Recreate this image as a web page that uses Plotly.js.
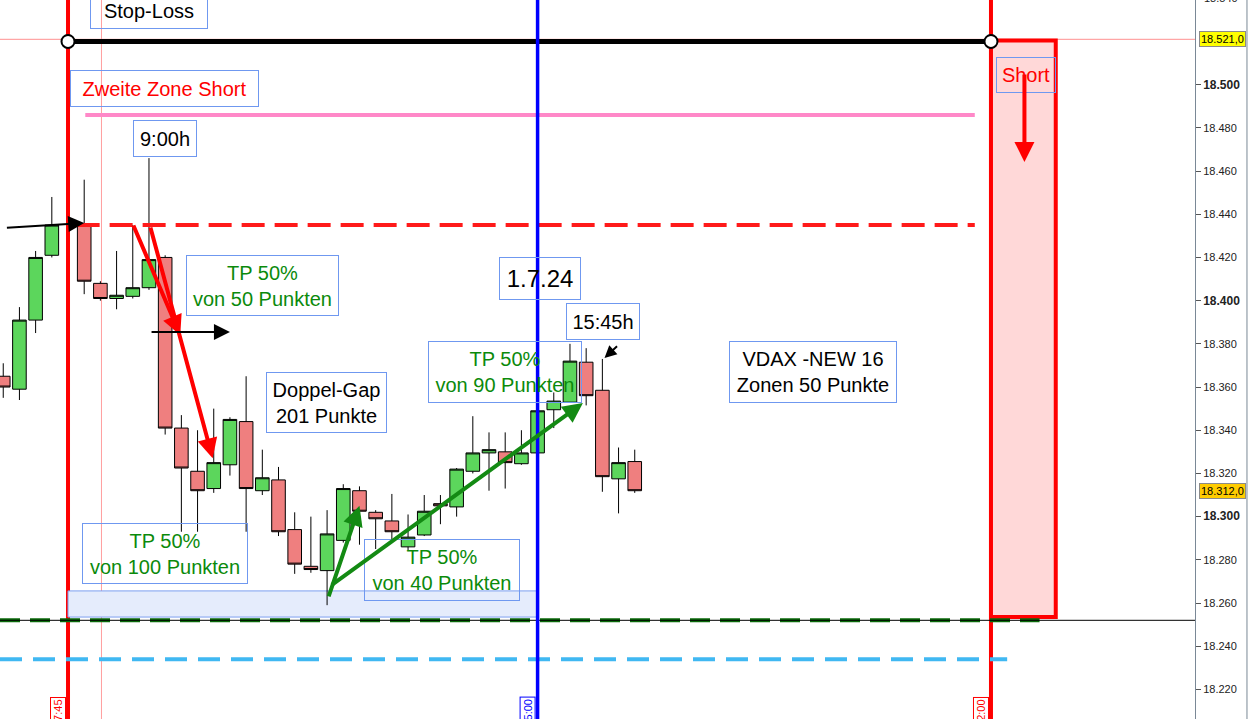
<!DOCTYPE html>
<html>
<head>
<meta charset="utf-8">
<script src="https://cdn.plot.ly/plotly-3.0.1.min.js"></script>
<style>
  body { margin: 0; background: #fff; }
  #chart { width: 1250px; height: 719px; }
</style>
</head>
<body>
<div id="chart"></div>
<script>
// 15 min candles, 1.7.24
var candleTimes = ['06:45', '07:00', '07:15', '07:30',
  '08:00', '08:15', '08:30', '08:45', '09:00', '09:15', '09:30', '09:45',
  '10:00', '10:15', '10:30', '10:45', '11:00', '11:15', '11:30', '11:45',
  '12:00', '12:15', '12:30', '12:45', '13:00', '13:15', '13:30', '13:45',
  '14:00', '14:15', '14:30', '14:45', '15:00', '15:15', '15:30', '15:45',
  '16:00', '16:15', '16:30'];
var openP = [18365, 18359, 18391, 18421,
  18435, 18408, 18401, 18402, 18406, 18420, 18341, 18321,
  18313, 18324, 18344, 18312, 18317, 18294, 18277, 18275,
  18289, 18312, 18302, 18298, 18286, 18291.5, 18306, 18304.5,
  18321, 18329.5, 18330, 18324.5, 18329.5, 18349.5, 18353, 18371.5,
  18358.5, 18317.5, 18325.5];
var highP = [18371, 18397, 18423, 18448,
  18456, 18409, 18423, 18435, 18466, 18421, 18347, 18340,
  18350, 18346, 18365, 18331, 18323, 18302, 18300, 18303,
  18315, 18314, 18303, 18310.5, 18301, 18310, 18310, 18322.5,
  18346.5, 18339, 18339, 18340, 18349, 18357.5, 18380, 18378,
  18373, 18332, 18331];
var lowP = [18355, 18354, 18385, 18420,
  18403, 18400, 18396, 18401, 18405, 18338, 18293, 18293,
  18311, 18319, 18293, 18310, 18291, 18273.5, 18274, 18259,
  18288, 18287, 18285, 18289, 18284.5, 18291, 18296.5, 18300,
  18320, 18312, 18313, 18324, 18329, 18341, 18353, 18351.5,
  18311.5, 18301.5, 18311];
var closeP = [18360, 18391, 18420, 18435,
  18409, 18401, 18402.5, 18406, 18419, 18341, 18322.5, 18312,
  18325, 18345, 18313, 18318, 18293, 18278, 18275.5, 18292,
  18313, 18302.5, 18299, 18293, 18290.5, 18302.5, 18305, 18322,
  18329.5, 18331, 18325, 18329.5, 18349, 18353.5, 18372, 18356,
  18318.5, 18325, 18312];

// levels drawn on the chart
var stopLoss = 18520;
var zone2Short = 18486;
var shortEntry = 18435;
var gapLevel = 18252;
var lowZone = 18234;
var lastPrice = 18312;
var crossPrice = 18521;
var gapBox = [18253.5, 18265.6];
var shortBox = [18253.5, 18520.5];

var yTicks = [18220, 18240, 18260, 18280, 18300, 18320, 18340, 18360, 18380,
  18400, 18420, 18440, 18460, 18480, 18500];
var yTickText = ['18.220', '18.240', '18.260', '18.280', '<b style="font-size:12px">18.300</b>',
  '18.320', '18.340', '18.360', '18.380', '<b style="font-size:12px">18.400</b>',
  '18.420', '18.440', '18.460', '18.480', '<b style="font-size:12px">18.500</b>'];

function t(hm) { return '2024-07-01 ' + hm; }

var FONT = 'Arial, "Liberation Sans", sans-serif';
var GREEN_TXT = '#0b8a0b';

var candles = {
  type: 'candlestick',
  x: candleTimes.map(t),
  open: openP, high: highP, low: lowP, close: closeP,
  increasing: { line: { color: '#000', width: 1 }, fillcolor: '#5cd65c' },
  decreasing: { line: { color: '#000', width: 1 }, fillcolor: '#ef7f7f' },
  whiskerwidth: 0,
  showlegend: false,
  hoverinfo: 'none'
};

var slEnds = {
  type: 'scatter', mode: 'markers',
  x: [t('07:45'), t('22:00')],
  y: [stopLoss, stopLoss],
  marker: { size: 13, color: '#fff', line: { color: '#000', width: 2 } },
  showlegend: false, hoverinfo: 'none', cliponaxis: false
};

function hline(y, x0, x1, color, width, dash, layer) {
  return { type: 'line', xref: 'x', yref: 'y', x0: x0, x1: x1, y0: y, y1: y,
    line: { color: color, width: width, dash: dash || 'solid' }, layer: layer || 'above' };
}
function vline(x, color, width, layer) {
  return { type: 'line', xref: 'x', yref: 'paper', x0: x, x1: x, y0: 0, y1: 1,
    line: { color: color, width: width }, layer: layer || 'above' };
}

var shapes = [
  // crosshair
  { type: 'line', xref: 'paper', yref: 'y', x0: 0, x1: 1, y0: crossPrice, y1: crossPrice,
    line: { color: '#ff9090', width: 1 }, layer: 'below' },
  vline(t('08:16'), '#ff9f9f', 1, 'below'),
  // boxes
  { type: 'rect', xref: 'x', yref: 'y', x0: t('07:45'), x1: t('15:00'), y0: gapBox[0], y1: gapBox[1],
    fillcolor: '#e5ecfc', line: { color: '#7d9ff0', width: 1 }, layer: 'below' },
  { type: 'rect', xref: 'x', yref: 'y', x0: t('22:00'), x1: t('23:00'), y0: shortBox[0], y1: shortBox[1],
    fillcolor: '#ffd8d8', line: { color: '#ff0000', width: 4 }, layer: 'below' },
  // time markers
  vline(t('07:45'), '#ff0000', 4, 'below'),
  vline(t('22:00'), '#ff0000', 4, 'below'),
  hline(stopLoss, t('07:45'), t('22:00'), '#000', 5, 'solid', 'below'),
  // levels
  hline(zone2Short, t('08:01'), t('21:45'), '#ff88c8', 4),
  hline(shortEntry, t('07:53'), t('21:45'), '#ff1a1a', 4, '23px,10px'),
  hline(gapLevel, t('06:42'), t('22:45'), '#0a6a0a', 4, '20px,10px'),
  { type: 'line', xref: 'paper', yref: 'y', x0: 0, x1: 1, y0: gapLevel, y1: gapLevel,
    line: { color: '#000', width: 1 } },
  hline(lowZone, t('06:42'), t('22:15'), '#40b8f2', 4, '22px,11px'),
  vline(t('15:00'), '#0000ff', 3.5),
  // right border
  { type: 'line', xref: 'paper', yref: 'paper', x0: 1.0435, x1: 1.0435, y0: 0, y1: 1,
    line: { color: '#7a8896', width: 1 } }
];

function box(text, x, y, w, h, color, size) {
  return { text: text, x: t(x), y: y, xref: 'x', yref: 'y', showarrow: false,
    width: w, height: h, align: 'center', valign: 'middle',
    font: { family: FONT, size: size || 20, color: color },
    bordercolor: '#6f98f0', borderwidth: 1, borderpad: 3, bgcolor: 'rgba(0,0,0,0)' };
}
function arrow(x0, y0, x1, y1, color, width, size) {
  return { text: '', x: t(x1), y: y1, ax: t(x0), ay: y0, xref: 'x', yref: 'y',
    axref: 'x', ayref: 'y', showarrow: true, arrowhead: 2, arrowsize: size,
    arrowwidth: width, arrowcolor: color, standoff: 0, startstandoff: 0 };
}
function timeTag(x, text, color) {
  return { text: text, x: t(x), y: 1 - 697 / 719, xref: 'x', yref: 'paper',
    xanchor: 'right', yanchor: 'top', xshift: -2, textangle: -90, showarrow: false,
    font: { family: FONT, size: 11, color: color },
    bordercolor: color, borderwidth: 1, borderpad: 1, bgcolor: '#fff' };
}
function priceTag(y, text, bg) {
  return { text: text, x: 1.003, y: y, xref: 'paper', yref: 'y', xanchor: 'left', yanchor: 'middle',
    showarrow: false, font: { family: FONT, size: 11, color: '#000' },
    bgcolor: bg, bordercolor: '#8a8a8a', borderwidth: 1, borderpad: 1 };
}

var annotations = [
  box('Stop-Loss', '09:00', 18534.4, 110, 29, '#000'),
  box('Zweite Zone Short', '09:14', 18498.3, 181, 29, '#ff0000'),
  box('9:00h', '09:15', 18475, 56, 29, '#000'),
  box('TP 50%<br>von 50 Punkten', '10:45', 18407, 145, 53, GREEN_TXT),
  box('Doppel-Gap<br>201 Punkte', '11:44', 18353, 113, 53, '#000'),
  box('TP 50%<br>von 100 Punkten', '09:15', 18283, 158, 53, GREEN_TXT),
  box('TP 50%<br>von 40 Punkten', '13:31', 18275.3, 148, 54, GREEN_TXT),
  box('1.7.24', '15:02', 18410.3, 74, 35, '#000', 24),
  box('15:45h', '16:01', 18390.4, 66, 29, '#000'),
  box('TP 50%<br>von 90 Punkten', '14:30', 18367, 146, 54, GREEN_TXT),
  box('VDAX -NEW 16<br>Zonen 50 Punkte', '19:15', 18367, 160, 54, '#000'),
  box('Short', '22:32', 18504.5, 52, 28, '#ff0000'),

  arrow('06:47', 18433.7, '08:00', 18436, '#000', 2, 1.6),
  arrow('08:45', 18435.5, '09:29', 18384, '#ff0000', 4, 1),
  arrow('09:01', 18434.6, '09:59', 18327, '#ff0000', 4, 1),
  arrow('09:01', 18385.5, '10:15', 18385.5, '#000', 2, 1.6),
  arrow('11:46', 18262.4, '12:15', 18305, '#138a13', 4, 1),
  arrow('11:48', 18267.9, '15:42', 18352.6, '#138a13', 4, 1),
  arrow('16:15', 18379.5, '16:02', 18373.5, '#000', 2, 1.2),
  arrow('22:31', 18505.4, '22:31', 18464.2, '#ff0000', 4, 1),

  timeTag('07:45', '07:45', '#ff0000'),
  timeTag('15:00', '15:00', '#0000ff'),
  timeTag('22:00', '22:00', '#ff0000'),

  priceTag(crossPrice, '18.521,0', '#ffff00'),
  priceTag(lastPrice, '18.312,0', '#ffcc00'),
  { text: '18.540', x: 1.006, y: 1 + 1.7 / 719, xref: 'paper', yref: 'paper', xanchor: 'left',
    yanchor: 'middle', showarrow: false, font: { family: FONT, size: 11, color: '#222' } }
];

var layout = {
  width: 1250, height: 719,
  margin: { l: 0, r: 55, t: 0, b: 0 },
  paper_bgcolor: '#fff', plot_bgcolor: '#fff',
  font: { family: FONT },
  showlegend: false,
  boxgap: 0.16,
  boxgroupgap: 0,
  xaxis: {
    type: 'date',
    range: ['2024-07-01 06:42', '2024-07-02 01:09'],
    visible: false,
    rangeslider: { visible: false },
    showgrid: false
  },
  yaxis: {
    side: 'right',
    range: [18206.3, 18539.2],
    tickvals: yTicks, ticktext: yTickText,
    tickfont: { family: FONT, size: 11, color: '#222' },
    ticks: 'outside', ticklen: 5, tickcolor: '#555',
    showline: true, linecolor: '#7a8896', linewidth: 1,
    showgrid: false, zeroline: false
  },
  shapes: shapes,
  annotations: annotations
};

Plotly.newPlot('chart', [candles, slEnds], layout, { staticPlot: true, displayModeBar: false });
</script>
</body>
</html>
